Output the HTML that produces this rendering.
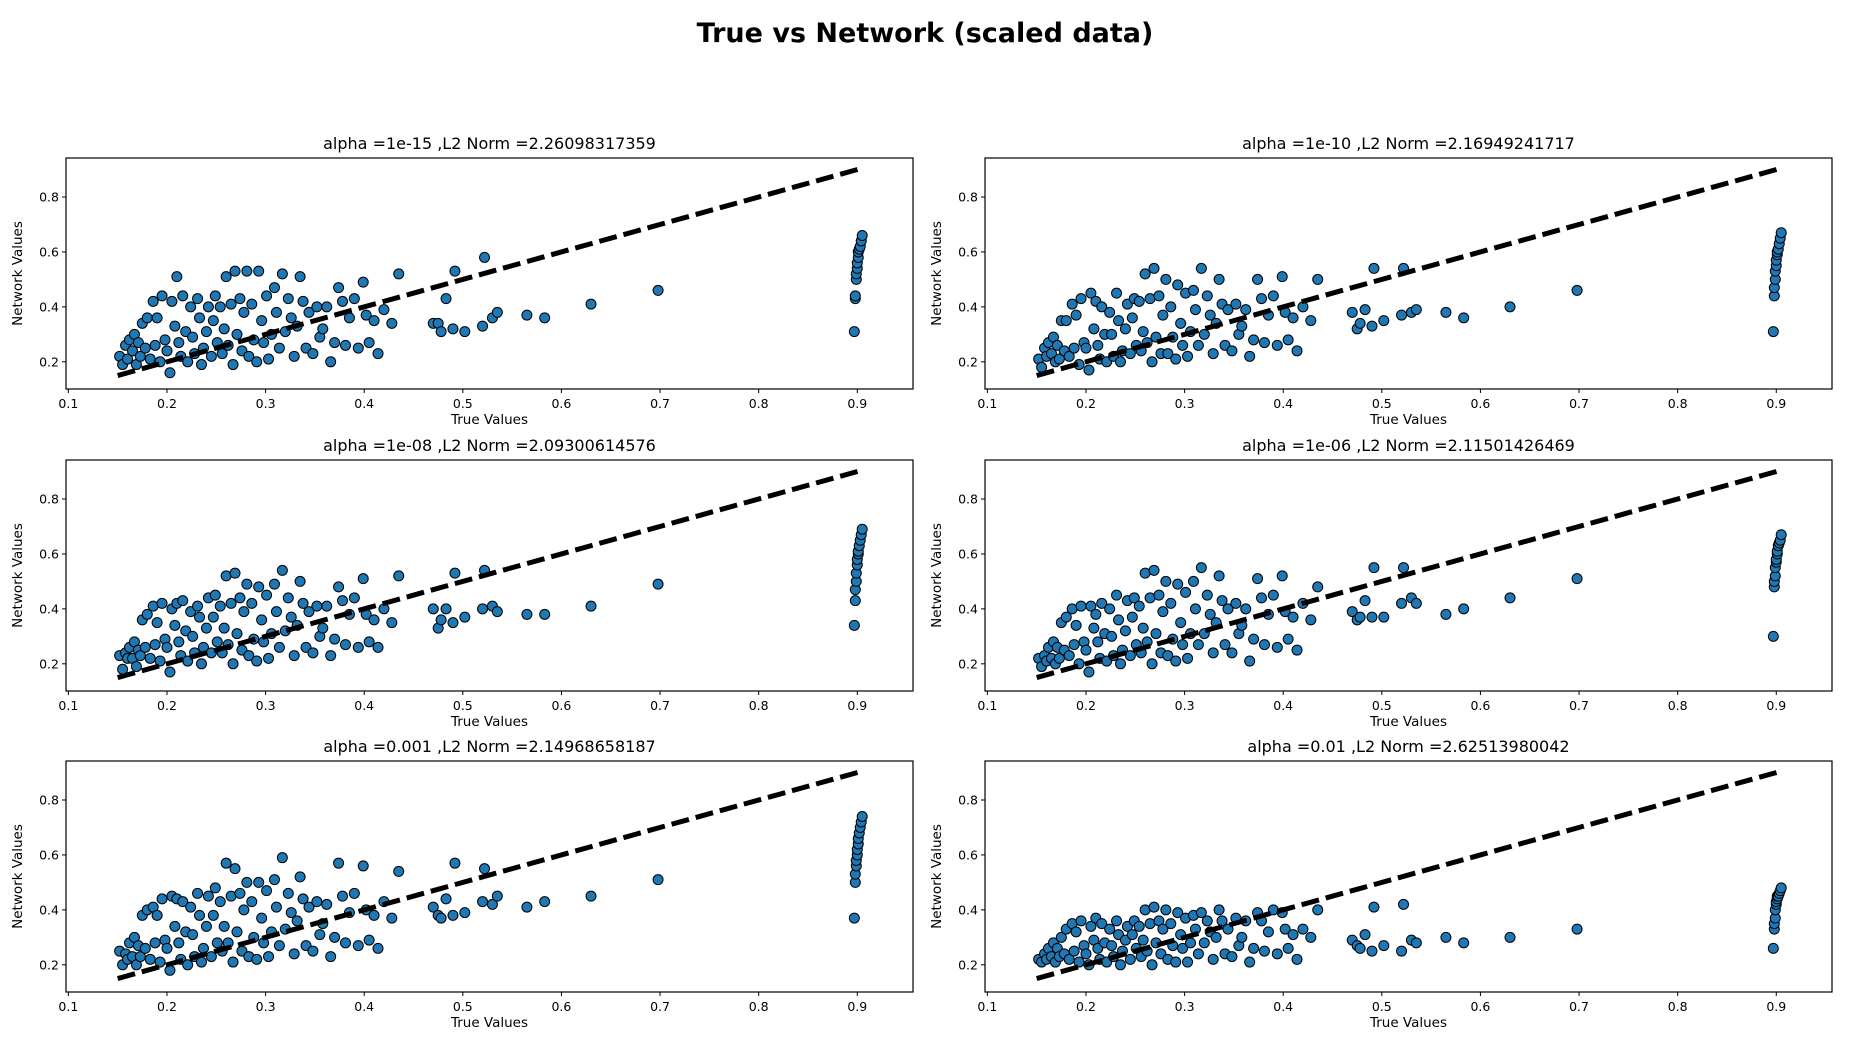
<!DOCTYPE html>
<html><head><meta charset="utf-8"><style>
html,body{margin:0;padding:0;background:#fff;}
svg{display:block;font-family:"DejaVu Sans","Liberation Sans",sans-serif;}
</style></head><body>
<svg id="fig" width="1850" height="1050" viewBox="0 0 1850 1050">
<text x="925" y="42" text-anchor="middle" font-size="27" font-weight="bold">True vs Network (scaled data)</text>
</svg>
<script>
const titles=["alpha =1e-15 ,L2 Norm =2.26098317359","alpha =1e-10 ,L2 Norm =2.16949241717","alpha =1e-08 ,L2 Norm =2.09300614576","alpha =1e-06 ,L2 Norm =2.11501426469","alpha =0.001 ,L2 Norm =2.14968658187","alpha =0.01 ,L2 Norm =2.62513980042"];
const xTicks=[0.1,0.2,0.3,0.4,0.5,0.6,0.7,0.8,0.9];
const yTicks=[0.2,0.4,0.6,0.8];
const denseX=[0.152,0.155,0.158,0.160,0.162,0.165,0.167,0.169,0.171,0.173,0.175,0.178,0.180,0.183,0.186,0.188,0.190,0.193,0.195,0.198,0.200,0.203,0.205,0.208,0.210,0.212,0.214,0.216,0.219,0.221,0.224,0.226,0.228,0.231,0.233,0.235,0.237,0.240,0.242,0.245,0.247,0.249,0.251,0.254,0.256,0.258,0.260,0.262,0.265,0.267,0.269,0.271,0.274,0.276,0.278,0.281,0.283,0.286,0.288,0.291,0.293,0.296,0.298,0.301,0.303,0.306,0.309,0.311,0.314,0.317,0.320,0.323,0.326,0.329,0.332,0.335,0.338,0.341,0.344,0.348,0.352,0.355,0.358,0.362,0.366,0.370,0.374,0.378,0.381,0.385,0.390,0.394,0.399,0.402,0.405,0.410,0.414,0.420,0.428,0.435];
const sparseX=[0.47,0.475,0.478,0.483,0.49,0.492,0.502,0.52,0.522,0.53,0.535,0.565,0.583,0.63,0.698];
const highX=[0.897,0.898,0.898,0.899,0.899,0.900,0.900,0.901,0.901,0.902,0.903,0.904,0.905];
const dense1=[0.22,0.19,0.26,0.21,0.28,0.24,0.30,0.19,0.27,0.22,0.34,0.25,0.36,0.21,0.42,0.26,0.36,0.20,0.44,0.28,0.24,0.16,0.42,0.33,0.51,0.27,0.22,0.44,0.31,0.20,0.40,0.29,0.23,0.43,0.36,0.19,0.25,0.31,0.40,0.22,0.35,0.44,0.27,0.40,0.23,0.32,0.51,0.26,0.41,0.19,0.53,0.30,0.43,0.24,0.38,0.53,0.22,0.41,0.28,0.20,0.53,0.35,0.27,0.44,0.21,0.30,0.47,0.38,0.25,0.52,0.31,0.43,0.36,0.22,0.33,0.51,0.42,0.25,0.38,0.23,0.40,0.29,0.32,0.40,0.20,0.27,0.47,0.42,0.26,0.36,0.43,0.25,0.49,0.37,0.27,0.35,0.23,0.39,0.34,0.52];
const dense2=[0.21,0.18,0.25,0.22,0.27,0.23,0.29,0.20,0.26,0.21,0.35,0.24,0.35,0.22,0.41,0.25,0.37,0.19,0.43,0.27,0.25,0.17,0.45,0.32,0.42,0.26,0.21,0.40,0.30,0.20,0.38,0.30,0.22,0.45,0.35,0.20,0.24,0.32,0.41,0.23,0.36,0.43,0.26,0.42,0.24,0.31,0.52,0.27,0.43,0.20,0.54,0.29,0.44,0.23,0.37,0.50,0.23,0.40,0.29,0.21,0.48,0.34,0.26,0.45,0.22,0.31,0.46,0.39,0.26,0.54,0.30,0.44,0.37,0.23,0.34,0.50,0.41,0.26,0.39,0.24,0.41,0.30,0.33,0.39,0.22,0.28,0.50,0.43,0.27,0.37,0.44,0.26,0.51,0.38,0.28,0.36,0.24,0.40,0.35,0.50];
const dense3=[0.23,0.18,0.24,0.22,0.26,0.22,0.28,0.19,0.25,0.23,0.36,0.26,0.38,0.22,0.41,0.27,0.35,0.21,0.42,0.29,0.26,0.17,0.40,0.34,0.42,0.28,0.23,0.43,0.32,0.21,0.39,0.30,0.24,0.41,0.37,0.20,0.26,0.33,0.44,0.24,0.37,0.45,0.28,0.41,0.24,0.33,0.52,0.27,0.42,0.20,0.53,0.31,0.44,0.25,0.39,0.49,0.23,0.42,0.29,0.21,0.48,0.36,0.28,0.45,0.22,0.31,0.49,0.39,0.26,0.54,0.32,0.44,0.37,0.23,0.34,0.50,0.42,0.26,0.39,0.24,0.41,0.30,0.33,0.41,0.23,0.29,0.48,0.43,0.27,0.38,0.44,0.26,0.51,0.38,0.28,0.36,0.26,0.40,0.35,0.52];
const dense4=[0.22,0.19,0.23,0.21,0.26,0.22,0.28,0.20,0.26,0.22,0.35,0.25,0.37,0.23,0.40,0.27,0.34,0.20,0.41,0.28,0.25,0.17,0.41,0.33,0.38,0.28,0.22,0.42,0.31,0.21,0.40,0.30,0.23,0.45,0.36,0.20,0.25,0.32,0.43,0.23,0.37,0.44,0.27,0.41,0.24,0.33,0.53,0.28,0.44,0.20,0.54,0.31,0.45,0.24,0.39,0.50,0.23,0.42,0.29,0.21,0.49,0.35,0.27,0.46,0.22,0.31,0.50,0.40,0.27,0.55,0.31,0.45,0.38,0.24,0.35,0.52,0.43,0.27,0.40,0.24,0.42,0.31,0.34,0.40,0.21,0.29,0.51,0.44,0.27,0.38,0.45,0.26,0.52,0.39,0.29,0.37,0.25,0.42,0.36,0.48];
const dense5=[0.25,0.20,0.24,0.22,0.28,0.23,0.30,0.20,0.27,0.23,0.38,0.26,0.40,0.22,0.41,0.28,0.38,0.21,0.44,0.29,0.26,0.18,0.45,0.34,0.44,0.28,0.22,0.43,0.32,0.20,0.41,0.31,0.23,0.46,0.38,0.21,0.26,0.34,0.45,0.23,0.38,0.48,0.28,0.43,0.25,0.34,0.57,0.28,0.45,0.21,0.55,0.32,0.46,0.25,0.40,0.50,0.23,0.43,0.30,0.22,0.50,0.37,0.28,0.47,0.23,0.32,0.51,0.41,0.27,0.59,0.33,0.46,0.39,0.24,0.36,0.52,0.44,0.27,0.41,0.25,0.43,0.31,0.35,0.42,0.23,0.30,0.57,0.45,0.28,0.39,0.46,0.27,0.56,0.40,0.29,0.38,0.26,0.43,0.37,0.54];
const dense6=[0.22,0.21,0.24,0.22,0.26,0.23,0.28,0.21,0.26,0.23,0.30,0.24,0.33,0.22,0.35,0.25,0.32,0.21,0.36,0.27,0.24,0.20,0.34,0.29,0.37,0.26,0.22,0.35,0.28,0.21,0.33,0.27,0.23,0.36,0.31,0.20,0.25,0.29,0.34,0.22,0.31,0.36,0.26,0.34,0.23,0.29,0.40,0.25,0.35,0.20,0.41,0.28,0.36,0.24,0.33,0.40,0.22,0.35,0.27,0.21,0.39,0.31,0.26,0.37,0.21,0.28,0.38,0.33,0.24,0.39,0.28,0.36,0.32,0.22,0.30,0.40,0.36,0.24,0.33,0.23,0.37,0.27,0.30,0.36,0.21,0.26,0.39,0.36,0.25,0.32,0.40,0.24,0.39,0.33,0.26,0.31,0.22,0.33,0.30,0.40];
const sparse1=[0.34,0.34,0.31,0.43,0.32,0.53,0.31,0.33,0.58,0.36,0.38,0.37,0.36,0.41,0.46];
const sparse2=[0.38,0.32,0.34,0.39,0.33,0.54,0.35,0.37,0.54,0.38,0.39,0.38,0.36,0.40,0.46];
const sparse3=[0.40,0.33,0.36,0.40,0.35,0.53,0.37,0.40,0.54,0.41,0.39,0.38,0.38,0.41,0.49];
const sparse4=[0.39,0.36,0.37,0.43,0.37,0.55,0.37,0.42,0.55,0.44,0.42,0.38,0.40,0.44,0.51];
const sparse5=[0.41,0.38,0.37,0.44,0.38,0.57,0.39,0.43,0.55,0.42,0.45,0.41,0.43,0.45,0.51];
const sparse6=[0.29,0.27,0.26,0.31,0.25,0.41,0.27,0.25,0.42,0.29,0.28,0.30,0.28,0.30,0.33];
const high1=[0.31,0.43,0.44,0.50,0.52,0.54,0.56,0.58,0.60,0.61,0.62,0.64,0.66];
const high2=[0.31,0.44,0.47,0.50,0.53,0.55,0.57,0.59,0.60,0.61,0.63,0.65,0.67];
const high3=[0.34,0.43,0.47,0.50,0.53,0.56,0.58,0.60,0.61,0.63,0.65,0.67,0.69];
const high4=[0.30,0.48,0.50,0.52,0.55,0.57,0.58,0.60,0.61,0.63,0.64,0.65,0.67];
const high5=[0.37,0.50,0.53,0.56,0.58,0.60,0.62,0.64,0.66,0.68,0.70,0.72,0.74];
const high6=[0.26,0.33,0.35,0.37,0.40,0.42,0.43,0.44,0.45,0.45,0.46,0.47,0.48];
const refLine=[0.15,0.905];

const denseY=[dense1,dense2,dense3,dense4,dense5,dense6];
const sparseY=[sparse1,sparse2,sparse3,sparse4,sparse5,sparse6];
const highY=[high1,high2,high3,high4,high5,high6];
const NS="http://www.w3.org/2000/svg";
const fig=document.getElementById('fig');
function mk(tag,attrs,parent,txt){const e=document.createElementNS(NS,tag);for(const k in attrs)e.setAttribute(k,attrs[k]);if(txt!==undefined)e.textContent=txt;parent.appendChild(e);return e;}
const AX_W=847,AX_H=231,X0=0.0976,X1=0.9565,Y0=0.101,Y1=0.942;
const lefts=[66,985],tops=[158,460,761];
for(let i=0;i<6;i++){
  const L=lefts[i%2],T=tops[Math.floor(i/2)];
  const sx=v=>L+(v-X0)/(X1-X0)*AX_W;
  const sy=v=>T+AX_H-(v-Y0)/(Y1-Y0)*AX_H;
  const g=mk('g',{},fig);
  
  
  const cp='clip'+i;
  const c=mk('clipPath',{id:cp},g);mk('rect',{x:L,y:T,width:AX_W,height:AX_H},c);
  const t=mk('text',{x:L+AX_W/2,y:T-9,'text-anchor':'middle','font-size':'16'},g,titles[i]);
  
  
  const pts=mk('g',{'clip-path':'url(#'+cp+')'},g);
  
  
  const xs=denseX.concat(sparseX,highX), ys=denseY[i].concat(sparseY[i],highY[i]);
  for(let k=0;k<xs.length;k++){
    const p=mk('circle',{cx:sx(xs[k]),cy:sy(ys[k]),r:5,fill:'#1f77b4',stroke:'#000','stroke-width':1},pts);
    
    
  }
  const ln=mk('line',{x1:sx(refLine[0]),y1:sy(refLine[0]),x2:sx(refLine[1]),y2:sy(refLine[1]),stroke:'#000','stroke-width':5,'stroke-dasharray':'18 7'},g);
  
  
  const fr=mk('rect',{x:L,y:T,width:AX_W,height:AX_H,fill:'none',stroke:'#000','stroke-width':1.2},g);
  
  
  xTicks.forEach(v=>{const x=sx(v);mk('line',{x1:x,y1:T+AX_H,x2:x,y2:T+AX_H+4,stroke:'#000'},g);
    const tl=mk('text',{x:x,y:T+AX_H+19,'text-anchor':'middle','font-size':'12.5'},g,v.toFixed(1));
    
    });
  yTicks.forEach(v=>{const y=sy(v);mk('line',{x1:L-4,y1:y,x2:L,y2:y,stroke:'#000'},g);
    const tl=mk('text',{x:L-7,y:y+4.5,'text-anchor':'end','font-size':'12.5'},g,v.toFixed(1));
    
    });
  const xl=mk('text',{x:L+AX_W/2,y:T+AX_H+35,'text-anchor':'middle','font-size':'13.5'},g,'True Values');
  
  
  const yx=L-44,yy=T+AX_H/2;
  const yl=mk('text',{x:yx,y:yy,'text-anchor':'middle','font-size':'13.5',transform:'rotate(-90 '+yx+' '+yy+')'},g,'Network Values');
  
  
}
</script>
</body></html>
